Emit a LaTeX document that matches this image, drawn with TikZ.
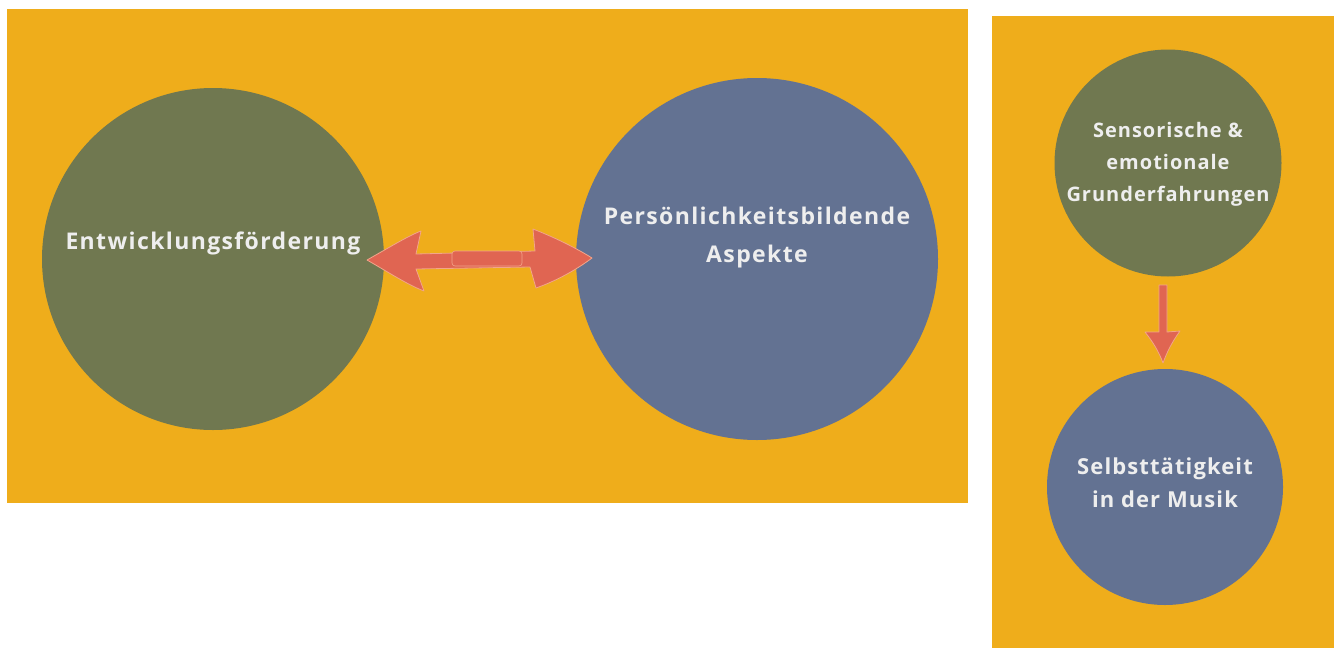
\documentclass[tikz,border=0pt]{standalone}
\usepackage{fontspec}
\setmainfont{Open Sans}
\newfontfamily\widefont{Open Sans}[LetterSpace=6]
\newfontfamily\midfont{Open Sans}[LetterSpace=5]
\definecolor{bgyel}{HTML}{EFAD1B}
\definecolor{cgreen}{HTML}{707850}
\definecolor{cblue}{HTML}{637292}
\definecolor{carrow}{HTML}{E06552}
\definecolor{carrowl}{HTML}{F2A58A}
\definecolor{ctext}{HTML}{EEEEEE}
\begin{document}
\begin{tikzpicture}[x=1pt,y=-1pt,
  panel/.style={fill=bgyel,draw=none},
  bubble/.style={circle,draw=none,inner sep=0pt},
  label/.style={text=ctext,align=center,inner sep=0pt},
  arrowshape/.style={fill=carrow,draw=carrowl,line width=0.8pt,line join=round}]
\useasboundingbox (0,0) rectangle (1341,648);
\fill[white] (0,0) rectangle (1341,648);
% panels
\path[panel] (7,9) rectangle (968,503);
\path[panel] (992,16) rectangle (1334,648);
% circles
\node[bubble,fill=cgreen,minimum size=342pt] (a) at (213,259) {};
\node[label,font=\widefont\fontsize{23}{30}\selectfont\bfseries] (at) at (213,243) {Entwicklungsförderung};
\node[bubble,fill=cblue,minimum size=362pt] (b) at (757,259) {};
\node[label,font=\widefont\fontsize{23}{38}\selectfont\bfseries] (bt) at (757,238) {Persönlichkeitsbildende\\Aspekte};
\node[bubble,fill=cgreen,minimum size=227pt] (c) at (1168,163) {};
\node[label,font=\midfont\fontsize{20}{32}\selectfont\bfseries] (ct) at (1168,164) {Sensorische \&\\emotionale\\Grunderfahrungen};
\node[bubble,fill=cblue,minimum size=236pt] (d) at (1165,487) {};
\node[label,font=\midfont\fontsize{22}{33}\selectfont\bfseries] (dt) at (1165,483) {Selbsttätigkeit\\in der Musik};
% double arrow
\coordinate (lt) at (367,260);
\coordinate (rt) at (592,258);
\draw[arrowshape] (lt) .. controls (390,247) and (408,236) .. (421,231)
  -- (416,254) -- (535,251) -- (533,229)
  .. controls (556,238) and (576,248) .. (rt)
  .. controls (576,270) and (556,281) .. (536,288)
  -- (530,267) -- (416,269) -- (424,291)
  .. controls (408,285) and (388,272) .. (lt) -- cycle;
\draw[carrowl,line width=0.6pt,fill=carrow,rounded corners=3pt] (452,251) rectangle (522,266);
% down arrow
\coordinate (dtip) at (1163,363);
\draw[arrowshape] (1159,285) -- (1167,285) -- (1167,332) -- (1180,331)
  .. controls (1172,342) and (1167,352) .. (dtip)
  .. controls (1159,352) and (1153,342) .. (1145,332) -- (1159,332) -- cycle;
\end{tikzpicture}
\end{document}
